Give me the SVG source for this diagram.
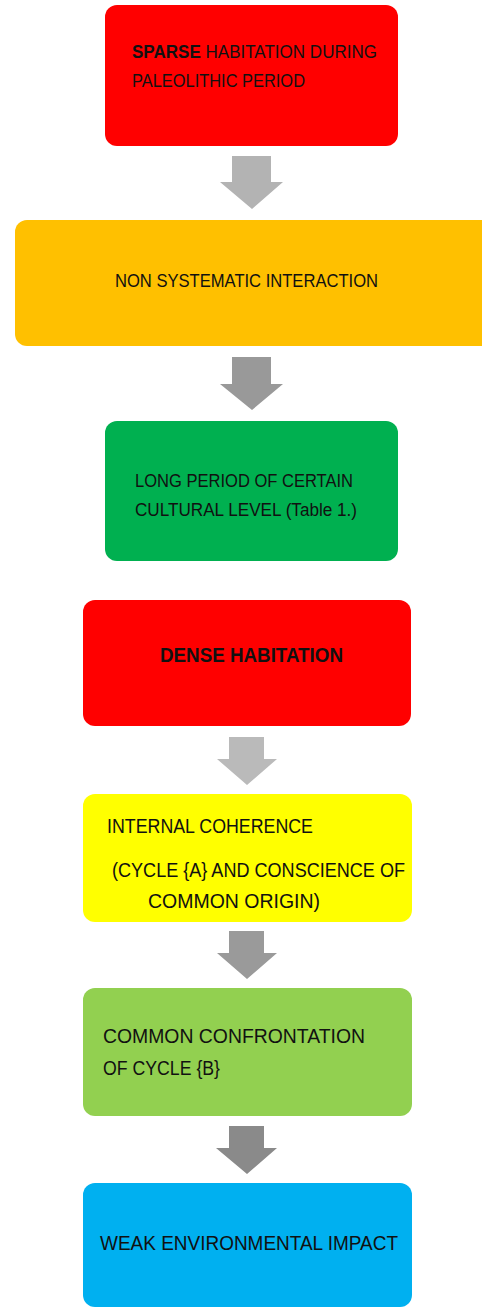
<svg xmlns="http://www.w3.org/2000/svg" width="482" height="1308" viewBox="0 0 482 1308">
  <style>
    .box { stroke: none; }
    .lbl { font-family: "Liberation Sans", Arial, sans-serif; fill: #111; }
    .s { font-size: 17.5px; }
    .l { font-size: 19.5px; }
    .b { font-weight: bold; }
  </style>
  <rect width="482" height="1308" fill="#ffffff"/>

  <!-- connectors: block arrows between the stages -->
  <g id="connectors">
    <polygon points="232,156 271,156 271,182 283,182 252,209 220,182 232,182" fill="#b3b3b3"/>
    <polygon points="232,357 271,357 271,384 283,384 252,410 220,384 232,384" fill="#999999"/>
    <polygon points="229,737 264,737 264,759 277,759 247,785 217,759 229,759" fill="#bababa"/>
    <polygon points="229,931 264,931 264,953 277,953 247,979 217,953 229,953" fill="#9a9a9a"/>
    <polygon points="229,1126 264,1126 264,1148 277,1148 247,1174 216,1148 229,1148" fill="#8a8a8a"/>
  </g>

  <g id="sparse-habitation">
    <rect class="box" x="105" y="5" width="293" height="141" rx="12" fill="#ff0000"/>
    <text class="lbl s" x="132" y="58" textLength="245" lengthAdjust="spacingAndGlyphs"><tspan class="b">SPARSE</tspan> HABITATION DURING</text>
    <text class="lbl s" x="132" y="87" textLength="173" lengthAdjust="spacingAndGlyphs">PALEOLITHIC PERIOD</text>
  </g>

  <g id="non-systematic-interaction">
    <rect class="box" x="15" y="220" width="480" height="126" rx="12" fill="#ffc000"/>
    <text class="lbl s" x="115" y="287" textLength="263" lengthAdjust="spacingAndGlyphs">NON SYSTEMATIC INTERACTION</text>
  </g>

  <g id="long-period">
    <rect class="box" x="105" y="421" width="293" height="140" rx="12" fill="#00b050"/>
    <text class="lbl s" x="135" y="487" textLength="218" lengthAdjust="spacingAndGlyphs">LONG PERIOD OF CERTAIN</text>
    <text class="lbl s" x="135" y="516" textLength="222" lengthAdjust="spacingAndGlyphs">CULTURAL LEVEL (Table 1.)</text>
  </g>

  <g id="dense-habitation">
    <rect class="box" x="83" y="600" width="328" height="126" rx="12" fill="#ff0000"/>
    <text class="lbl l b" x="160" y="662" textLength="183" lengthAdjust="spacingAndGlyphs">DENSE HABITATION</text>
  </g>

  <g id="internal-coherence">
    <rect class="box" x="83" y="794" width="329" height="128" rx="12" fill="#ffff00"/>
    <text class="lbl l" x="107" y="833" textLength="206" lengthAdjust="spacingAndGlyphs">INTERNAL COHERENCE</text>
    <text class="lbl l" x="112" y="877" textLength="293" lengthAdjust="spacingAndGlyphs">(CYCLE {A} AND CONSCIENCE OF</text>
    <text class="lbl l" x="148" y="908" textLength="172" lengthAdjust="spacingAndGlyphs">COMMON ORIGIN)</text>
  </g>

  <g id="common-confrontation">
    <rect class="box" x="83" y="988" width="329" height="128" rx="12" fill="#92d050"/>
    <text class="lbl l" x="103" y="1043" textLength="262" lengthAdjust="spacingAndGlyphs">COMMON CONFRONTATION</text>
    <text class="lbl l" x="103" y="1075" textLength="117" lengthAdjust="spacingAndGlyphs">OF CYCLE {B}</text>
  </g>

  <g id="weak-environmental-impact">
    <rect class="box" x="83" y="1183" width="329" height="124" rx="12" fill="#00b0f0"/>
    <text class="lbl l" x="100" y="1250" textLength="298" lengthAdjust="spacingAndGlyphs">WEAK ENVIRONMENTAL IMPACT</text>
  </g>
</svg>
